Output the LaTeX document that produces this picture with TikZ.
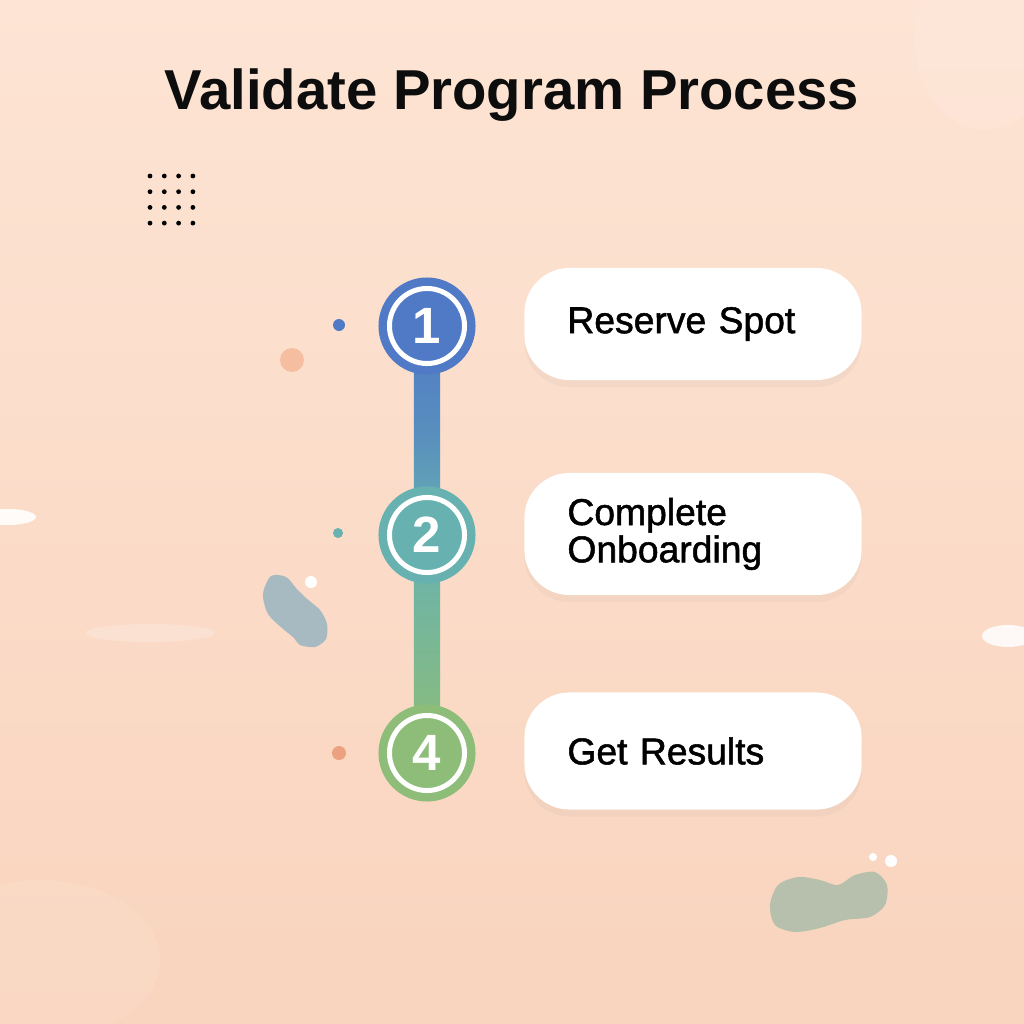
\documentclass[tikz,border=0pt]{standalone}
\usepackage{fontspec}
\setmainfont{Liberation Sans}
\newfontfamily\labelfont[FakeBold=1.4]{Liberation Sans}
\usetikzlibrary{shadows}
\definecolor{peachtop}{RGB}{253,228,212}
\definecolor{peachbot}{RGB}{249,212,190}
\definecolor{stepblue}{RGB}{80,122,198}
\definecolor{stepteal}{RGB}{103,178,176}
\definecolor{stepgreen}{RGB}{141,189,120}
\definecolor{blobgrey}{RGB}{167,185,193}
\definecolor{blobsage}{RGB}{182,192,172}
\definecolor{dotorange}{RGB}{236,162,128}
\definecolor{blobsalmon}{RGB}{246,190,160}
\begin{document}
\begin{tikzpicture}[x=.01cm, y=-.01cm,
  every node/.style={font=\labelfont\fontsize{10.6}{10.6}\selectfont},
  stepbox/.style={fill=white, rounded corners=.45cm, minimum width=3.37cm,
    text width=2.51cm, inner xsep=.43cm, align=left,
    drop shadow={opacity=.06, shadow xshift=0pt, shadow yshift=-2pt}},
  badge/.style={circle, minimum size=.97cm, inner sep=0pt},
  ring/.style={circle, draw=white, line width=.05cm, minimum size=.75cm,
    inner sep=0pt, text=white, font=\fontsize{14.5}{14.5}\selectfont\bfseries}]
  \useasboundingbox (0,0) rectangle (1024,1024);
  % background wash
  \shade[top color=peachtop, bottom color=peachbot] (0,0) rectangle (1024,1024);
  \fill[white, opacity=.1] (985,40) ellipse (70 and 90);
  \fill[white, opacity=.08] (40,960) ellipse (120 and 80);
  \fill[white, opacity=.9] (8,517) ellipse (28 and 8);
  \fill[white, opacity=.85] (1008,636) ellipse (26 and 11);
  \fill[white, opacity=.2] (150,633) ellipse (65 and 9);
  % dot grid
  \foreach \i in {0,...,3}
    \foreach \j in {0,...,3}
      \fill[black] (150+14.3*\i,176+15.7*\j) circle (2.4);
  % blobs
  \fill[blobsalmon] (292,360) circle (12);
  \fill[blobgrey] plot[smooth cycle] coordinates {(271,576) (286,577) (296,588)
    (306,598) (320,610) (327,624) (326,639) (315,647) (300,645) (294,638)
    (282,628) (268,614) (263,594)};
  \fill[white] (311,582) circle (6);
  \fill[blobsage] plot[smooth cycle] coordinates {(770,905) (778,885) (798,877)
    (820,880) (838,885) (855,875) (875,872) (887,885) (885,905) (870,917)
    (845,920) (820,928) (795,932) (775,925)};
  \fill[white] (873,857) circle (4);
  \fill[white] (891,861) circle (6);
  % title
  \node[anchor=base, font=\fontsize{16}{16}\selectfont\bfseries, text=black!95]
    (title) at (512,109) {Validate Program Process};
  % step badges
  \node[badge] (n1) at (427,326) {};
  \node[badge] (n2) at (427,535) {};
  \node[badge] (n4) at (427,753) {};
  \shade[top color=stepblue, bottom color=stepteal, middle color=stepblue!65!stepteal]
    ([xshift=-.13cm]n1.center) rectangle ([xshift=.13cm]n2.center);
  \shade[top color=stepteal, bottom color=stepgreen]
    ([xshift=-.13cm]n2.center) rectangle ([xshift=.13cm]n4.center);
  \node[badge, fill=stepblue] at (n1) {};
  \node[badge, fill=stepteal] at (n2) {};
  \node[badge, fill=stepgreen] at (n4) {};
  \node[ring] (r1) at (n1) {1};
  \node[ring] (r2) at (n2) {2};
  \node[ring] (r4) at (n4) {4};
  % side dots
  \fill[stepblue] (339,325) circle (6);
  \fill[stepteal] (338,533) circle (5);
  \fill[dotorange] (339,753) circle (7);
  % step labels
  \node[stepbox, minimum height=1.12cm] (b1) at (693,324) {Reserve Spot};
  \node[stepbox, minimum height=1.22cm] (b2) at (693,534) {Complete\\Onboarding};
  \node[stepbox, minimum height=1.17cm] (b3) at (693,751) {Get Results};
\end{tikzpicture}
\end{document}
